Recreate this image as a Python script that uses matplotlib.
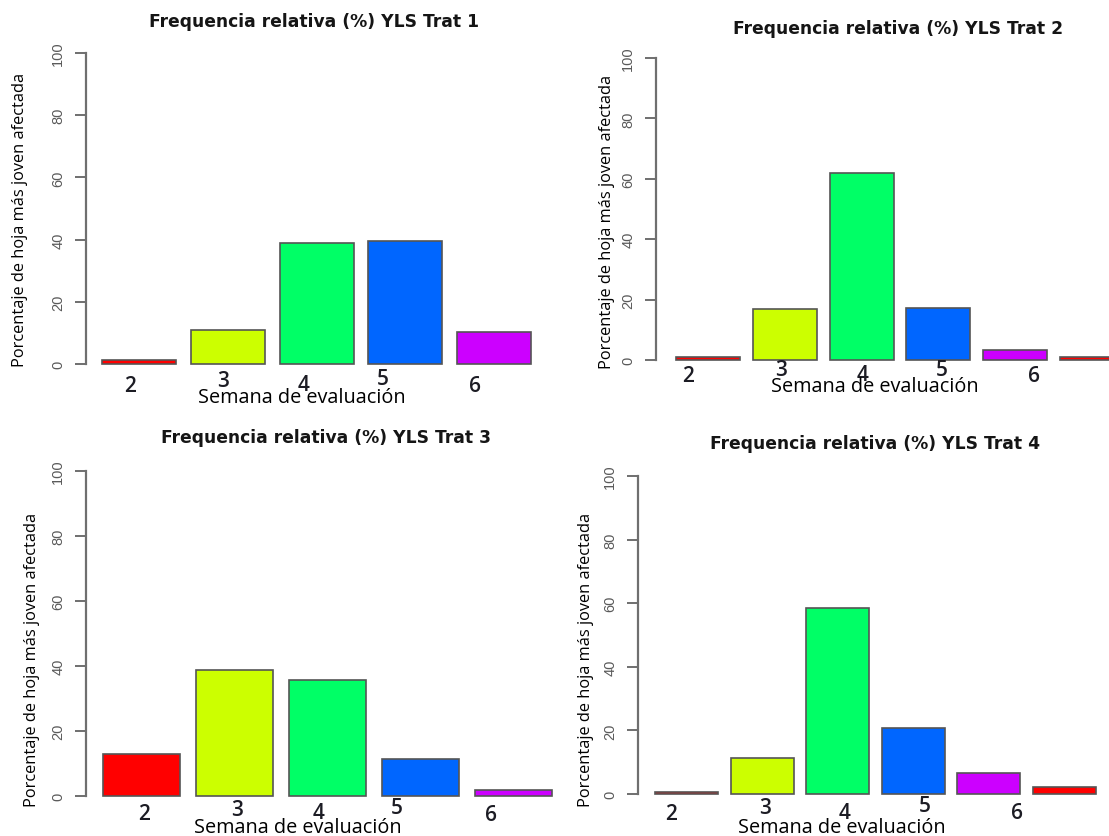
import matplotlib.pyplot as plt

# Data: relative frequency (%) of youngest affected leaf, by evaluation week
week_labels = ["2", "3", "4", "5", "6"]
trat1 = [1.2, 10.9, 38.9, 39.5, 10.3]
trat2 = [0.9, 16.9, 61.9, 17.2, 3.3, 0.9]
trat3 = [12.9, 38.9, 35.7, 11.4, 1.8]
trat4 = [0.7, 11.3, 58.5, 20.8, 6.6, 2.2]
titles = ["Frequencia relativa (%) YLS Trat 1", "Frequencia relativa (%) YLS Trat 2",
          "Frequencia relativa (%) YLS Trat 3", "Frequencia relativa (%) YLS Trat 4"]
yticks = [0, 20, 40, 60, 80, 100]

# R rainbow(5), recycled
palette = ["#FF0000", "#CCFF00", "#00FF66", "#0066FF", "#CC00FF"]

W, H = 1109, 837

# layout in pixels: axis x, first bar left, bar width, y(100), y(0)
panels = [
    dict(vals=trat1, axis_x=86, bar1=102, unit=74, y100=54, y0=365,
         title=(314, 22), ylab=(20, 220), xlab=(302, 398),
         ticks=[(130, 387), (223, 382), (304, 386), (383, 380), (475, 387)]),
    dict(vals=trat2, axis_x=656, bar1=676, unit=64, y100=59, y0=361,
         title=(898, 29), ylab=(607, 222), xlab=(875, 387),
         ticks=[(688, 377), (781, 371), (863, 376), (942, 371), (1034, 377)]),
    dict(vals=trat3, axis_x=86, bar1=102.5, unit=77.5, y100=472, y0=797,
         title=(326, 438), ylab=(32, 660), xlab=(298, 828),
         ticks=[(144, 815), (237, 811), (319, 814), (397, 809), (491, 816)]),
    dict(vals=trat4, axis_x=638, bar1=655, unit=63, y100=477, y0=795,
         title=(875, 444), ylab=(586, 660), xlab=(842, 828),
         ticks=[(671, 815), (765, 809), (845, 814), (925, 807), (1017, 814)]),
]

fig = plt.figure(figsize=(W / 100, H / 100), dpi=100, facecolor='white')


def fx(x):
    return x / W


def fy(y):
    return 1 - y / H


for p, title in zip(panels, titles):
    vals = p['vals']
    n = len(vals)
    x_left = 0.2 - (p['bar1'] - p['axis_x']) / p['unit']
    x_right = 0.2 + 1.2 * n
    width_px = (x_right - x_left) * p['unit']
    ax = fig.add_axes([fx(p['axis_x']), fy(p['y0']), width_px / W, (p['y0'] - p['y100']) / H])
    ax.set_xlim(x_left, x_right)
    ax.set_ylim(0, 100)
    lefts = [0.2 + 1.2 * i for i in range(n)]
    cols = [palette[i % len(palette)] for i in range(n)]
    ax.bar(lefts, vals, width=1.0, align='edge', color=cols,
           edgecolor='#555555', linewidth=1.2, clip_on=False)
    ax.patch.set_alpha(0)
    for s in ['top', 'right', 'bottom']:
        ax.spines[s].set_visible(False)
    ax.spines['left'].set_color('#6f6f6f')
    ax.spines['left'].set_linewidth(1.6)
    ax.set_xticks([])
    ax.set_yticks(yticks)
    ax.set_yticklabels([str(t) for t in yticks], rotation=90, va='center',
                       fontsize=10.5, color='#5a5a5a',
                       family=['Liberation Sans Narrow', 'Liberation Sans'])
    ax.tick_params(axis='y', length=8, width=1.4, color='#6f6f6f', pad=7)

    fig.text(fx(p['title'][0]), fy(p['title'][1]), title, ha='center', va='center',
             fontsize=12.3, fontweight='bold', family='DejaVu Sans', color='#151515')
    fig.text(fx(p['ylab'][0]), fy(p['ylab'][1]), "Porcentaje de hoja más joven afectada",
             rotation=90, ha='center', va='center', fontsize=11.8, family='Open Sans',
             color='black')
    for lab, (tx, ty) in zip(week_labels, p['ticks']):
        fig.text(fx(tx), fy(ty), lab, ha='center', va='center', fontsize=15,
                 fontweight='semibold', family='Open Sans', color='#1c1c24')
    fig.text(fx(p['xlab'][0]), fy(p['xlab'][1]), "Semana de evaluación",
             ha='center', va='center', fontsize=14.3, family='Open Sans', color='black')

fig.savefig('out.png', dpi=100, facecolor='white')
